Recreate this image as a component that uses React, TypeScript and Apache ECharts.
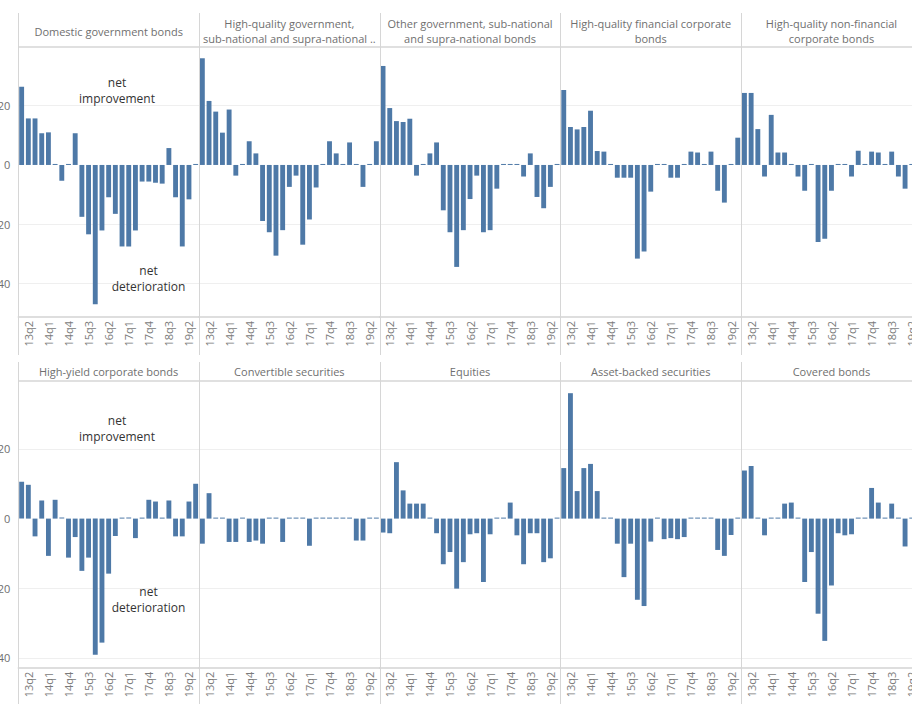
import React, { useEffect, useRef } from "react";
import * as echarts from "echarts";

const quarters = [
  "13q1", "13q2", "13q3", "13q4", "14q1", "14q2", "14q3", "14q4",
  "15q1", "15q2", "15q3", "15q4", "16q1", "16q2", "16q3", "16q4",
  "17q1", "17q2", "17q3", "17q4", "18q1", "18q2", "18q3", "18q4",
  "19q1", "19q2", "19q3",
];

const domesticGov = [26.4, 15.7, 15.7, 10.7, 11.0, 0, -5.3, 0, 10.7, -17.5, -23.4, -47.0, -22.1, -10.9, -16.5, -27.5, -27.5, -22.1, -5.6, -5.6, -6.0, -6.3, 5.7, -10.9, -27.5, -11.6, 0];
const hqGov = [36.0, 21.6, 18.0, 10.9, 18.7, -3.6, 0, 8.0, 3.9, -18.9, -22.7, -30.6, -22.0, -7.4, -3.6, -26.9, -18.4, -7.6, 0, 8.0, 3.9, 0, 7.6, 0, -7.4, 0, 8.0];
const otherGov = [33.4, 19.2, 14.8, 14.5, 15.6, -3.6, 0, 3.9, 7.6, -15.3, -22.7, -34.4, -22.0, -11.5, -3.6, -22.7, -22.0, -8.0, 0, 0, 0, -3.9, 3.9, -10.8, -14.6, -7.4, 0];
const hqFinancial = [25.3, 12.8, 12.0, 12.8, 18.3, 4.7, 4.5, 0, -4.3, -4.3, -4.3, -31.6, -29.2, -9.0, 0, 0, -4.3, -4.3, 0, 4.5, 4.2, 0, 4.5, -8.7, -12.7, 0, 9.2];
const hqNonFinancial = [24.3, 24.3, 12.1, -3.9, 16.9, 4.2, 4.2, 0, -3.9, -8.7, 0, -26.0, -24.9, -8.7, 0, 0, -3.9, 4.8, 0, 4.5, 4.2, 0, 4.5, -3.9, -8.0, 0, 0];
const highYield = [10.6, 9.7, -5.1, 5.2, -10.7, 5.4, 0, -11.2, -5.3, -15.0, -11.2, -39.1, -35.6, -15.8, -5.0, 0, 0, -5.6, 0, 5.4, 4.9, 0, 5.2, -5.1, -5.1, 4.9, 10.0];
const convertible = [-7.2, 7.3, 0, 0, -6.7, -6.7, 0, -6.7, -6.3, -7.2, 0, 0, -6.7, 0, 0, 0, -7.8, 0, 0, 0, 0, 0, 0, -6.3, -6.3, 0, 0];
const equities = [-4.0, -4.2, 16.2, 8.1, 4.3, 4.3, 4.3, 0, -4.2, -13.1, -9.6, -20.1, -12.5, -4.5, -4.2, -18.2, -4.5, 0, 0, 4.6, -4.8, -13.1, -4.2, -4.2, -12.5, -11.4, 0];
const assetBacked = [14.5, 36.0, 7.9, 14.5, 15.7, 7.9, 0, 0, -7.2, -16.8, -7.2, -23.3, -25.1, -6.6, 0, -5.9, -5.6, -5.9, -5.3, 0, 0, 0, 0, -9.0, -10.7, -4.7, 0];
const covered = [13.8, 15.1, 0, -4.8, 0, 0, 4.3, 4.6, 0, -18.2, -9.6, -27.3, -35.1, -19.2, -4.2, -4.8, -4.5, 0, 0, 8.8, 4.6, 0, 4.3, 0, -8.0, 0, 0];

const panelTitles = [
  "Domestic government bonds",
  "High-quality government,\nsub-national and supra-national ..",
  "Other government, sub-national\nand supra-national bonds",
  "High-quality financial corporate\nbonds",
  "High-quality non-financial\ncorporate bonds",
  "High-yield corporate bonds",
  "Convertible securities",
  "Equities",
  "Asset-backed securities",
  "Covered bonds",
];
const panelValues = [
  domesticGov, hqGov, otherGov, hqFinancial, hqNonFinancial,
  highYield, convertible, equities, assetBacked, covered,
];

const improvementLabel = "net\nimprovement";
const deteriorationLabel = "net\ndeterioration";

const FONT = '"Open Sans", "Noto Sans", sans-serif';
const BAR = "#4e79a7";
const LEFT0 = 18.3;
const PW = 180.7;

const rows = [
  { titleY: 31, lineTop: 13, lineBottom: 355, gridTop: 47, gridBottom: 317, min: -51.3, max: 39.8, impY: 90.5, detY: 278 },
  { titleY: 371.7, lineTop: 362, lineBottom: 704, gridTop: 381, gridBottom: 667.7, min: -42.8, max: 39.5, impY: 428.4, detY: 599.7 },
];

function buildOption() {
  const grid: any[] = [];
  const xAxis: any[] = [];
  const yAxis: any[] = [];
  const series: any[] = [];
  const graphic: any[] = [];

  panelValues.forEach((vals, i) => {
    const r = Math.floor(i / 5);
    const c = i % 5;
    const row = rows[r];
    const left = LEFT0 + c * PW;
    grid.push({
      left,
      top: row.gridTop,
      width: PW,
      height: row.gridBottom - row.gridTop,
      containLabel: false,
      outerBoundsMode: "none",
    });
    xAxis.push({
      type: "category",
      gridIndex: i,
      data: quarters,
      axisTick: { show: false },
      axisLine: { show: true, onZero: false, lineStyle: { color: "#d3d3d3", width: 1.5 } },
      axisLabel: {
        rotate: 90,
        interval: (idx: number) => idx % 3 === 1,
        fontSize: 11,
        fontFamily: FONT,
        color: "#7a7a7a",
        margin: 4,
      },
      splitLine: { show: false },
    });
    yAxis.push({
      type: "value",
      gridIndex: i,
      min: row.min,
      max: row.max,
      minInterval: 20,
      maxInterval: 20,
      splitNumber: 4,
      axisLine: { show: false },
      axisTick: { show: false },
      axisLabel: {
        show: c === 0,
        showMinLabel: false,
        showMaxLabel: false,
        fontSize: 11,
        fontFamily: FONT,
        color: "#6e6e6e",
        margin: 8,
      },
      splitLine: {
        show: true,
        lineStyle: {
          color: ["rgba(0,0,0,0)", "#efefef", "#efefef", "rgba(0,0,0,0)", "#efefef", "rgba(0,0,0,0)"],
          width: 1,
        },
      },
    });
    series.push({
      type: "bar",
      xAxisIndex: i,
      yAxisIndex: i,
      data: vals,
      barCategoryGap: "27%",
      barMinHeight: 1,
      itemStyle: { color: BAR },
      silent: true,
    });
    graphic.push({
      type: "text",
      x: left + PW / 2,
      y: row.titleY,
      style: {
        text: panelTitles[i],
        fill: "#6f6f6f",
        fontSize: 11,
        fontFamily: FONT,
        align: "center",
        verticalAlign: "middle",
        lineHeight: 15,
      },
    });
  });

  rows.forEach((row) => {
    for (let c = 0; c <= 5; c++) {
      const x = Math.round(LEFT0 + c * PW) + 0.5;
      graphic.push({
        type: "line",
        shape: { x1: x, y1: row.lineTop, x2: x, y2: row.lineBottom },
        style: { stroke: "#d6d6d6", lineWidth: 1 },
        z: 10,
      });
    }
    graphic.push({
      type: "line",
      shape: { x1: LEFT0, y1: row.gridTop, x2: 930, y2: row.gridTop },
      style: { stroke: "#d6d6d6", lineWidth: 1.5 },
      z: 10,
    });
    graphic.push({
      type: "text",
      x: 117,
      y: row.impY,
      style: {
        text: improvementLabel,
        fill: "#333333",
        fontSize: 12,
        fontFamily: FONT,
        align: "center",
        verticalAlign: "middle",
        lineHeight: 16,
      },
      z: 20,
    });
    graphic.push({
      type: "text",
      x: 148.5,
      y: row.detY,
      style: {
        text: deteriorationLabel,
        fill: "#333333",
        fontSize: 12,
        fontFamily: FONT,
        align: "center",
        verticalAlign: "middle",
        lineHeight: 16,
      },
      z: 20,
    });
  });

  return {
    animation: false,
    backgroundColor: "#ffffff",
    textStyle: { fontFamily: FONT },
    grid,
    xAxis,
    yAxis,
    series,
    graphic,
  };
}

export default function App() {
  const ref = useRef<HTMLDivElement>(null);
  useEffect(() => {
    if (!ref.current) return;
    const chart = echarts.init(ref.current, undefined, { renderer: "svg" });
    chart.setOption(buildOption() as any);
    return () => {
      chart.dispose();
    };
  }, []);
  return (
    <div
      ref={ref}
      style={{ position: "absolute", left: 0, top: 0, width: 912, height: 704, background: "#fff" }}
    />
  );
}
